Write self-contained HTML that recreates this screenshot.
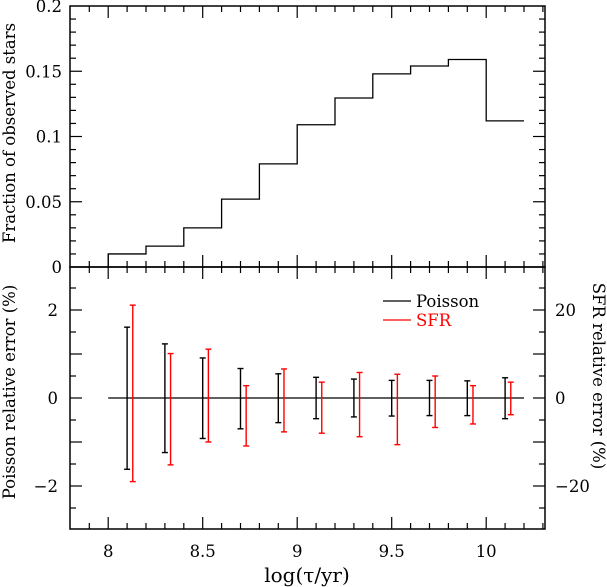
<!DOCTYPE html>
<html><head><meta charset="utf-8"><style>
html,body{margin:0;padding:0;background:#fff;}
svg{display:block;font-family:"DejaVu Serif","Liberation Serif",serif;}
</style></head><body>
<svg id="c" width="607" height="587" viewBox="0 0 607 587" xmlns="http://www.w3.org/2000/svg">
</svg>
<script>
// ---- data ----
const binEdges = [8.0, 8.2, 8.4, 8.6, 8.8, 9.0, 9.2, 9.4, 9.6, 9.8, 10.0, 10.2];
const fractions = [0.010, 0.016, 0.030, 0.052, 0.079, 0.109, 0.1295, 0.148, 0.154, 0.159, 0.112];
const poissonX = [8.1, 8.3, 8.5, 8.7, 8.9, 9.1, 9.3, 9.5, 9.7, 9.9, 10.1];
const poissonHi = [1.61, 1.23, 0.91, 0.67, 0.55, 0.47, 0.43, 0.40, 0.40, 0.39, 0.46];
const poissonLo = [-1.62, -1.24, -0.92, -0.70, -0.56, -0.47, -0.43, -0.41, -0.40, -0.40, -0.47];
const sfrX = [8.13, 8.33, 8.53, 8.73, 8.93, 9.13, 9.33, 9.53, 9.73, 9.93, 10.13];
const sfrHi = [21.1, 10.1, 11.1, 2.8, 6.6, 3.6, 5.8, 5.4, 5.0, 2.8, 3.6];
const sfrLo = [-19.0, -15.2, -10.0, -10.9, -7.7, -8.0, -8.8, -10.6, -6.7, -5.9, -3.8];
const xTickLabels = ["8", "8.5", "9", "9.5", "10"];
const xTickValues = [8, 8.5, 9, 9.5, 10];
const topTickValues = [0, 0.05, 0.1, 0.15, 0.2];
const topTickLabels = ["0", "0.05", "0.1", "0.15", "0.2"];
const botTickValues = [-2, 0, 2];
const botTickLabels = ["\u22122", "0", "2"];
const rightTickValues = [-20, 0, 20];
const rightTickLabels = ["\u221220", "0", "20"];

// ---- geometry ----
const L = 70, R = 545, T = 6, MID = 267, B = 529;
const X = v => 108.2 + (v - 8) * 189;
const YT = v => 267 - v * 1305;
const YB = v => 398 - v * 44;
const YS = v => 398 - v * 4.4;
const svg = document.getElementById('c');
const NS = 'http://www.w3.org/2000/svg';
function mk(tag, attrs, parent) {
  const e = document.createElementNS(NS, tag);
  for (const k in attrs) e.setAttribute(k, attrs[k]);
  (parent || svg).appendChild(e);
  return e;
}
function line(x1, y1, x2, y2, col, w, name) {
  const e = mk('line', {x1, y1, x2, y2, stroke: col || '#000', 'stroke-width': w || 1.3});
  
  
  return e;
}
function text(x, y, s, anchor, name, extra) {
  const e = mk('text', Object.assign({x, y, 'font-size': 16.5, 'text-anchor': anchor || 'middle', fill: '#000'}, extra || {}));
  e.textContent = s;
  
  
  return e;
}

// frames
let f1 = mk('rect', {x: L, y: T, width: R - L, height: MID - T, fill: 'none', stroke: '#000', 'stroke-width': 1.5});


let f2 = mk('rect', {x: L, y: MID, width: R - L, height: B - MID, fill: 'none', stroke: '#000', 'stroke-width': 1.5});



// x ticks
for (let i = 0; i <= 25; i++) {
  const v = 7.8 + i * 0.1;
  const x = X(v);
  if (x < L + 1 || x > R - 1) continue;
  const major = Math.abs(v * 2 - Math.round(v * 2)) < 1e-6;
  const len = major ? 12 : 6;
  [[T, 1], [MID, -1], [MID, 1], [B, -1]].forEach(([y, d]) => line(x, y, x, y + d * len, '#000', 1.2, 'x-tick'));
}
xTickValues.forEach((v, i) => text(X(v), 557, xTickLabels[i], 'middle', 'x-tick-label'));

// top y ticks
for (let i = 0; i <= 20; i++) {
  const y = YT(i * 0.01);
  const len = i % 5 === 0 ? 12 : 6;
  if (i > 0 && i < 20) { line(L, y, L + len, y, '#000', 1.2, 'y-tick'); line(R, y, R - len, y, '#000', 1.2, 'y-tick'); }
}
topTickValues.forEach((v, i) => text(L - 8, YT(v) + 6, topTickLabels[i], 'end', 'top-y-tick-label'));

// bottom left ticks
for (let i = -6; i <= 6; i++) {
  const y = YB(i * 0.5);
  if (y <= MID + 1 || y >= B - 1) continue;
  const len = i % 2 === 0 ? 12 : 6;
  line(L, y, L + len, y, '#000', 1.2, 'poisson-y-tick');
}
botTickValues.forEach((v, i) => text(L - 12, YB(v) + 6, botTickLabels[i], 'end', 'poisson-y-tick-label'));
// right ticks (SFR)
for (let i = -6; i <= 6; i++) {
  const y = YS(i * 5);
  if (y <= MID + 1 || y >= B - 1) continue;
  const len = i % 2 === 0 ? 12 : 6;
  line(R, y, R - len, y, '#000', 1.2, 'sfr-y-tick');
}
rightTickValues.forEach((v, i) => text(R + 10, YS(v) + 6, rightTickLabels[i], 'start', 'sfr-y-tick-label'));

// histogram
let d = '';
fractions.forEach((v, i) => {
  const x0 = X(binEdges[i]), x1 = X(binEdges[i + 1]), y = YT(v);
  d += (i === 0 ? `M${x0},${YT(0)}L${x0},${y}` : `L${x0},${y}`) + `L${x1},${y}`;
});
const hist = mk('path', {d, fill: 'none', stroke: '#000', 'stroke-width': 1.3});



// zero line
line(X(8), YB(0), X(10.2), YB(0), '#000', 1.3, 'zero-line');

// error bars
function ebar(x, hi, lo, yf, col, name) {
  const g = mk('g', {});
  
  
  const px = X(x), y1 = yf(hi), y2 = yf(lo);
  mk('line', {x1: px, y1, x2: px, y2, stroke: col, 'stroke-width': 1.4}, g);
  mk('line', {x1: px - 3, y1, x2: px + 3, y2: y1, stroke: col, 'stroke-width': 1.4}, g);
  mk('line', {x1: px - 3, y1: y2, x2: px + 3, y2, stroke: col, 'stroke-width': 1.4}, g);
}
poissonX.forEach((x, i) => ebar(x, poissonHi[i], poissonLo[i], YB, '#000', 'poisson-error-bar'));
sfrX.forEach((x, i) => ebar(x, sfrHi[i], sfrLo[i], YS, '#f00', 'sfr-error-bar'));

// legend
line(383, 301, 411, 301, '#000', 1.3, 'legend-poisson-line');
text(416, 307, 'Poisson', 'start', 'legend-poisson-label');
line(383, 320, 411, 320, '#f00', 1.3, 'legend-sfr-line');
text(416, 326, 'SFR', 'start', 'legend-sfr-label', {fill: '#f00'});

// axis titles
text(0, 0, 'Fraction of observed stars', 'middle', 'top-y-axis-title', {transform: 'translate(15,133) rotate(-90)'});
text(0, 0, 'Poisson relative error (%)', 'middle', 'poisson-y-axis-title', {transform: 'translate(15,392) rotate(-90)'});
text(0, 0, 'SFR relative error (%)', 'middle', 'sfr-y-axis-title', {transform: 'translate(593,376) rotate(90)'});
const xt = text(307, 582, '', 'middle', 'x-axis-title', {'font-size': 20});
xt.textContent = 'log(\u03c4/yr)';
</script>
</body></html>
